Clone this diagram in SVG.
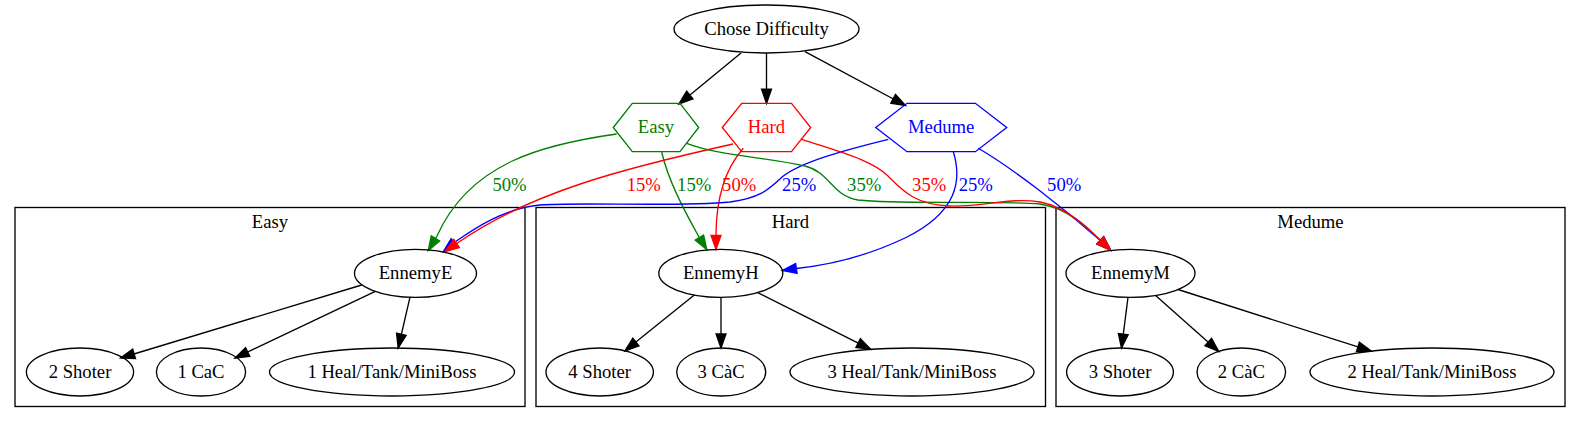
<svg xmlns="http://www.w3.org/2000/svg" width="1581" height="423" viewBox="0 0 1581 423">
<style>
text{font-family:"Liberation Serif","Times New Roman",serif;font-size:18.67px;text-anchor:middle}
.n ellipse,.c rect{fill:none;stroke:#000;stroke-width:1.33}
.hex{fill:none;stroke-width:1.33}
.e path{fill:none;stroke-width:1.33}
.k{stroke:#000}.g{stroke:#008000}.r{stroke:#ff0000}.b{stroke:#0000ff}
.tg{fill:#008000}.tr{fill:#ff0000}.tb{fill:#0000ff}
</style>
<defs>
<marker id="ak" markerUnits="userSpaceOnUse" markerWidth="14" markerHeight="10" viewBox="0 0 13.33 9.33" refX="13.33" refY="4.67" orient="auto" style="overflow:visible"><path d="M0,0 L13.33,4.67 L0,9.33 Z" fill="#000" stroke="#000" stroke-width="1.33"/></marker>
<marker id="ag" markerUnits="userSpaceOnUse" markerWidth="14" markerHeight="10" viewBox="0 0 13.33 9.33" refX="13.33" refY="4.67" orient="auto" style="overflow:visible"><path d="M0,0 L13.33,4.67 L0,9.33 Z" fill="#008000" stroke="#008000" stroke-width="1.33"/></marker>
<marker id="ar" markerUnits="userSpaceOnUse" markerWidth="14" markerHeight="10" viewBox="0 0 13.33 9.33" refX="13.33" refY="4.67" orient="auto" style="overflow:visible"><path d="M0,0 L13.33,4.67 L0,9.33 Z" fill="#ff0000" stroke="#ff0000" stroke-width="1.33"/></marker>
<marker id="ab" markerUnits="userSpaceOnUse" markerWidth="14" markerHeight="10" viewBox="0 0 13.33 9.33" refX="13.33" refY="4.67" orient="auto" style="overflow:visible"><path d="M0,0 L13.33,4.67 L0,9.33 Z" fill="#0000ff" stroke="#0000ff" stroke-width="1.33"/></marker>
</defs>
<rect width="1581" height="423" fill="#fff"/>
<g id="clusters" class="c">
<g id="cluster_easy"><rect x="15" y="207.5" width="510" height="199"/><text x="270" y="228">Easy</text></g>
<g id="cluster_hard"><rect x="536" y="207.5" width="509.5" height="199"/><text x="790.5" y="228">Hard</text></g>
<g id="cluster_medume"><rect x="1056" y="207.5" width="509" height="199"/><text x="1310.5" y="228">Medume</text></g>
</g>
<g id="edges" class="e">
<path class="k" d="M741,53 L679,104" marker-end="url(#ak)"/>
<path class="k" d="M766.5,53 L766.5,103.3" marker-end="url(#ak)"/>
<path class="k" d="M805,51.7 L905.5,105.5" marker-end="url(#ak)"/>
<path class="g" d="M616.7,134 C545,144 470,162 437,236 L428.3,250.5" marker-end="url(#ag)"/>
<path class="g" d="M661.7,152 C668,180 684,210 699,237 L706.7,249.5" marker-end="url(#ag)"/>
<path class="r" d="M743.3,148.3 C726,168 716,195 716,236 L716,249.5" marker-end="url(#ar)"/>
<path class="b" d="M888.3,139.3 C845,150 800,162 782,177 C768,190 760,198 730,202 C680,207 580,202 540,205 C505,208 475,228 455,242 L443.5,251.5" marker-end="url(#ab)"/>
<path class="r" d="M733,144 C625,168 530,192 456,244 L445,251.5" marker-end="url(#ar)"/>
<path class="g" d="M686.7,143.3 C720,156 765,157 805,166 C830,172 832,196 858,200 C905,205 990,200 1040,204 C1068,208 1088,228 1101,241 L1110.5,250" marker-end="url(#ag)"/>
<path class="b" d="M953.3,151.7 C962,180 958,212 905,238 C865,257 830,265 796,268.5 L782.5,270.5" marker-end="url(#ab)"/>
<path class="b" d="M978.3,148.3 C1012,168 1060,205 1101,241 L1110.5,250" marker-end="url(#ab)"/>
<path class="r" d="M801.7,139.3 C840,152 872,160 888,176 C902,190 915,205 950,206 C985,207 1010,197 1040,202 C1066,207 1087,227 1101,241 L1110.5,250" marker-end="url(#ar)"/>
<path class="k" d="M361.7,285 L120.7,358" marker-end="url(#ak)"/>
<path class="k" d="M375.3,291.3 L235,358" marker-end="url(#ak)"/>
<path class="k" d="M410,297.2 L398.2,348" marker-end="url(#ak)"/>
<path class="k" d="M694.3,295 L625,350.8" marker-end="url(#ak)"/>
<path class="k" d="M721,297.3 L721,348" marker-end="url(#ak)"/>
<path class="k" d="M757.7,292.6 L870.7,349.4" marker-end="url(#ak)"/>
<path class="k" d="M1128,297.3 L1121.5,348" marker-end="url(#ak)"/>
<path class="k" d="M1155.6,295.4 L1218.7,351.4" marker-end="url(#ak)"/>
<path class="k" d="M1178,289.5 L1371.3,351.2" marker-end="url(#ak)"/>
<text class="tg" x="509.5" y="191">50%</text>
<text class="tr" x="643.8" y="191">15%</text>
<text class="tg" x="694.2" y="191">15%</text>
<text class="tr" x="739.2" y="191">50%</text>
<text class="tb" x="799.2" y="191">25%</text>
<text class="tg" x="864.2" y="191">35%</text>
<text class="tr" x="929.2" y="191">35%</text>
<text class="tb" x="975.8" y="191">25%</text>
<text class="tb" x="1064.2" y="191">50%</text>
</g>
<g id="chose" class="n"><ellipse cx="766.5" cy="29" rx="92.5" ry="24"/><text x="766.5" y="34.6">Chose Difficulty</text></g>
<g id="easy"><polygon class="hex g" points="613.3,127.5 632.3,103.3 680,103.3 698.7,127.5 680,151.7 632.3,151.7"/><text class="tg" x="656" y="133.1">Easy</text></g>
<g id="hard"><polygon class="hex r" points="722.3,127.5 741.7,103.3 791.5,103.3 810.7,127.5 791.5,151.7 741.7,151.7"/><text class="tr" x="766.5" y="133.1">Hard</text></g>
<g id="medume"><polygon class="hex b" points="875.7,127.5 907,103.3 975.4,103.3 1006.7,127.5 975.4,151.7 907,151.7"/><text class="tb" x="941.2" y="133.1">Medume</text></g>
<g id="ennemyE" class="n"><ellipse cx="415.5" cy="273.3" rx="61" ry="24"/><text x="415.5" y="278.9">EnnemyE</text></g>
<g id="ennemyH" class="n"><ellipse cx="720.8" cy="273.3" rx="62" ry="24"/><text x="720.8" y="278.9">EnnemyH</text></g>
<g id="ennemyM" class="n"><ellipse cx="1130.5" cy="273.3" rx="64.5" ry="24"/><text x="1130.5" y="278.9">EnnemyM</text></g>
<g id="e_shoter" class="n"><ellipse cx="80" cy="372" rx="53.6" ry="24"/><text x="80" y="377.6">2 Shoter</text></g>
<g id="e_cac" class="n"><ellipse cx="201" cy="372" rx="44.6" ry="24"/><text x="201" y="377.6">1 CaC</text></g>
<g id="e_heal" class="n"><ellipse cx="392" cy="372" rx="122.5" ry="24"/><text x="392" y="377.6">1 Heal/Tank/MiniBoss</text></g>
<g id="h_shoter" class="n"><ellipse cx="599.7" cy="372" rx="53.7" ry="24"/><text x="599.7" y="377.6">4 Shoter</text></g>
<g id="h_cac" class="n"><ellipse cx="721.2" cy="372" rx="44.5" ry="24"/><text x="721.2" y="377.6">3 CàC</text></g>
<g id="h_heal" class="n"><ellipse cx="912" cy="372" rx="122" ry="24"/><text x="912" y="377.6">3 Heal/Tank/MiniBoss</text></g>
<g id="m_shoter" class="n"><ellipse cx="1120" cy="372" rx="53.4" ry="24"/><text x="1120" y="377.6">3 Shoter</text></g>
<g id="m_cac" class="n"><ellipse cx="1241.3" cy="372" rx="44.3" ry="24"/><text x="1241.3" y="377.6">2 CàC</text></g>
<g id="m_heal" class="n"><ellipse cx="1432" cy="372" rx="122" ry="24"/><text x="1432" y="377.6">2 Heal/Tank/MiniBoss</text></g>
</svg>
